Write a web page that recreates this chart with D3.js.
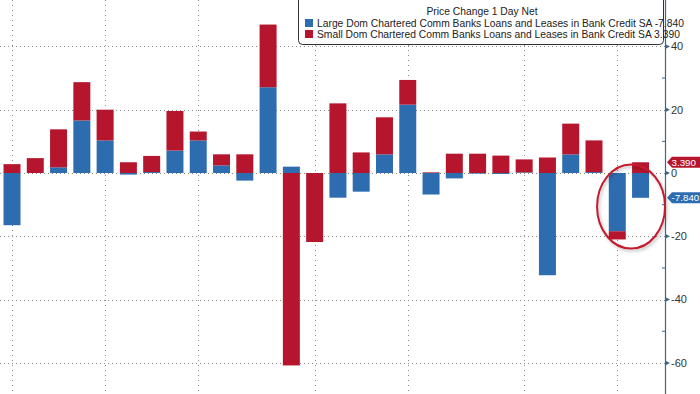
<!DOCTYPE html>
<html>
<head>
<meta charset="utf-8">
<script src="https://cdn.jsdelivr.net/npm/d3@7"></script>
<style>
  body { margin: 0; background: #fff; }
  svg { display: block; font-family: "Liberation Sans", Arial, sans-serif; }
</style>
</head>
<body>
<div id="chart"></div>
<script>
// weekly observations, change in loans & leases ($bn)
const weeks = d3.range(1, 29).map(i => "W" + i);
const monthStarts = ["W1", "W5", "W9", "W14", "W18", "W23", "W27"];
const largeBanks = [-16.5, 0, 1.8, 16.6, 10.3, -0.5, 0.3, 7.1, 10.3, 2.4, -2.4, 27.1, 2.0, 0,
  -7.8, -5.9, 5.9, 21.6, -6.8, -1.7, -0.2, -0.3, 0.2, -32.3, 5.9, 0.3, -18.4, -7.84];
const smallBanks = [2.8, 4.7, 12.0, 12.1, 9.7, 3.4, 5.1, 12.5, 2.8, 3.5, 5.9, 19.8, -60.8, -21.8,
  22.0, 6.5, 11.7, 7.8, 0.2, 6.1, 6.1, 5.5, 4.1, 4.9, 9.7, 10.0, -2.6, 3.39];
const yTicks = [40, 20, 0, -20, -40, -60];
const legendTitle = "Price Change 1 Day Net";
const seriesNames = [
  "Large Dom Chartered Comm Banks Loans and Leases in Bank Credit SA",
  "Small Dom Chartered Comm Banks Loans and Leases in Bank Credit SA"
];

const W = 700, H = 394;
const blue = "#2e6cb0", red = "#b6162d";
const axisX = 665;
const fmt = v => d3.format(".3f")(v).replace("−", "-");

const svg = d3.select("#chart").append("svg")
  .attr("width", W)
  .attr("height", H);

const x = d3.scaleBand()
  .domain(weeks)
  .range([0.36, 652.2])
  .paddingInner(0.27)
  .paddingOuter(0.135);

const y = d3.scaleLinear()
  .domain([-60, 40])
  .range([362.9, 46.4]);

// grid
const grid = svg.append("g").attr("stroke", "#8a8a8a").attr("stroke-width", 1);
grid.selectAll("line.h")
  .data(yTicks)
  .join("line")
  .attr("class", "h")
  .attr("x1", 0).attr("x2", axisX)
  .attr("y1", d => Math.round(y(d)) + 0.5)
  .attr("y2", d => Math.round(y(d)) + 0.5)
  .attr("stroke-dasharray", "1,3");
grid.selectAll("line.v")
  .data(monthStarts)
  .join("line")
  .attr("class", "v")
  .attr("x1", d => Math.round(x(d) + x.bandwidth() / 2) + 0.5)
  .attr("x2", d => Math.round(x(d) + x.bandwidth() / 2) + 0.5)
  .attr("y1", 0).attr("y2", H)
  .attr("stroke-dasharray", "1,4");

// stacked bars, positives and negatives stacked away from zero
const rows = weeks.map((w, i) => ({week: w, large: largeBanks[i], small: smallBanks[i]}));
const series = d3.stack()
  .keys(["large", "small"])
  .offset(d3.stackOffsetDiverging)(rows);
const colour = d3.scaleOrdinal().domain(["large", "small"]).range([blue, red]);

svg.append("g")
  .selectAll("g")
  .data(series)
  .join("g")
  .attr("fill", d => colour(d.key))
  .selectAll("rect")
  .data(d => d)
  .join("rect")
  .attr("x", d => x(d.data.week))
  .attr("width", x.bandwidth())
  .attr("y", d => y(Math.max(d[0], d[1])))
  .attr("height", d => Math.abs(y(d[0]) - y(d[1])));

// right axis
const axis = svg.append("g");
axis.append("line")
  .attr("x1", axisX + 0.5).attr("x2", axisX + 0.5)
  .attr("y1", 0).attr("y2", H)
  .attr("stroke", "#3f6688").attr("stroke-width", 1.2);
axis.selectAll("line.minor")
  .data([30, 10, -10, -30, -50])
  .join("line")
  .attr("class", "minor")
  .attr("x1", axisX - 3).attr("x2", axisX + 1)
  .attr("y1", d => y(d)).attr("y2", d => y(d))
  .attr("stroke", "#3f6688");
axis.selectAll("path.tick")
  .data(yTicks)
  .join("path")
  .attr("class", "tick")
  .attr("d", d => `M${axisX},${y(d) - 2.5}L${axisX + 5},${y(d)}L${axisX},${y(d) + 2.5}Z`)
  .attr("fill", "#3f6688");
axis.selectAll("text")
  .data(yTicks)
  .join("text")
  .attr("x", axisX + 6)
  .attr("y", d => y(d))
  .attr("dy", "0.35em")
  .attr("font-size", 11)
  .attr("fill", "#333")
  .text(d => d);

// last-value tags
const tags = [
  {value: smallBanks[smallBanks.length - 1], fill: red},
  {value: largeBanks[largeBanks.length - 1], fill: blue}
];
const tag = svg.append("g").selectAll("g")
  .data(tags)
  .join("g")
  .attr("transform", d => `translate(${axisX + 2},${y(d.value)})`);
tag.append("path")
  .attr("d", "M0,0L5,-5.5H33V5.5H5Z")
  .attr("fill", d => d.fill);
tag.append("text")
  .attr("x", 4.5)
  .attr("dy", "0.35em")
  .attr("font-size", 9.8)
  .attr("fill", "#fff")
  .text(d => fmt(d.value));

// legend
const legend = svg.append("g");
legend.append("rect")
  .attr("x", 298.5).attr("y", -6)
  .attr("width", 365).attr("height", 50.5)
  .attr("rx", 4)
  .attr("fill", "#fff")
  .attr("stroke", "#333");
legend.append("text")
  .attr("x", 482).attr("y", 15)
  .attr("text-anchor", "middle")
  .attr("font-size", 10.3)
  .attr("fill", "#222")
  .text(legendTitle);
const items = legend.selectAll("g.item")
  .data(seriesNames.map((name, i) => ({name, value: [largeBanks, smallBanks][i].slice(-1)[0], fill: [blue, red][i]})))
  .join("g")
  .attr("class", "item")
  .attr("transform", (d, i) => `translate(305,${19 + i * 11})`);
items.append("rect")
  .attr("width", 8).attr("height", 8)
  .attr("fill", d => d.fill);
items.append("text")
  .attr("x", 12).attr("y", 8)
  .attr("font-size", 10.3)
  .attr("fill", "#222")
  .text(d => d.name + " " + fmt(d.value));

// annotation circle round the latest weeks
const defs = svg.append("defs");
const f = defs.append("filter").attr("id", "shadow").attr("x", "-20%").attr("y", "-20%").attr("width", "140%").attr("height", "140%");
f.append("feDropShadow").attr("dx", 1.5).attr("dy", 2).attr("stdDeviation", 1.5).attr("flood-color", "#000").attr("flood-opacity", 0.25);
svg.append("ellipse")
  .attr("cx", x("W28") - 1).attr("cy", y(-10.6))
  .attr("rx", 34).attr("ry", 42)
  .attr("fill", "none")
  .attr("stroke", "#c41a2e")
  .attr("stroke-width", 2)
  .attr("filter", "url(#shadow)");
</script>
</body>
</html>
